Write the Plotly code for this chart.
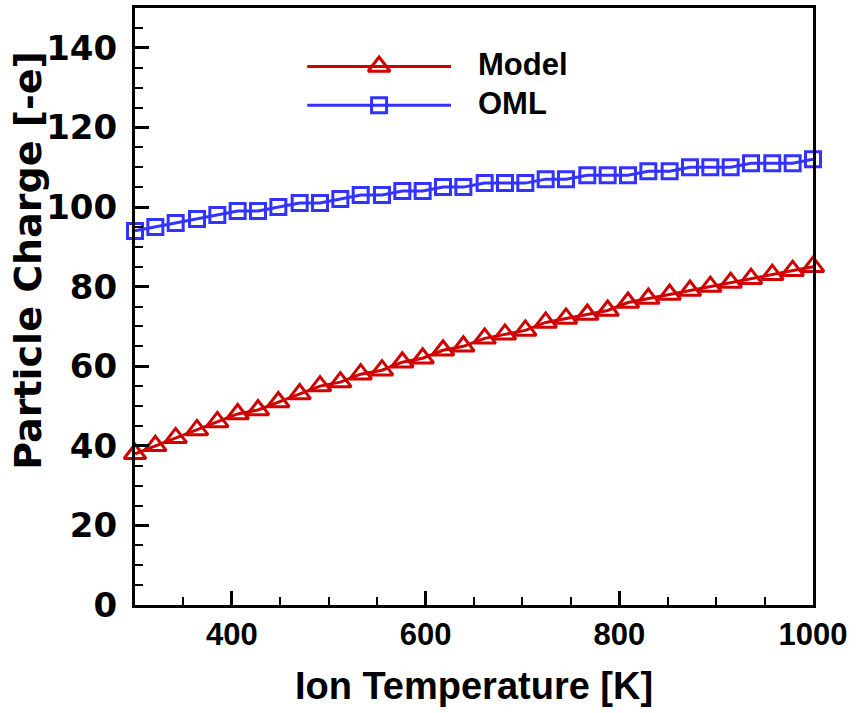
import plotly.graph_objects as go

# Ion temperature [K]
temperature = [300, 321, 342, 364, 385, 406, 427, 448, 470, 491, 512, 533,
               555, 576, 597, 618, 639, 661, 682, 703, 724, 745, 767, 788,
               809, 830, 852, 873, 894, 915, 936, 958, 979, 1000]
# Particle charge [-e]
model = [38, 40, 42, 44, 46, 48, 49, 51, 53, 55, 56, 58,
         59, 61, 62, 64, 65, 67, 68, 69, 71, 72, 73, 74,
         76, 77, 78, 79, 80, 81, 82, 83, 84, 85]
oml = [94, 95, 96, 97, 98, 99, 99, 100, 101, 101, 102, 103,
       103, 104, 104, 105, 105, 106, 106, 106, 107, 107, 108, 108,
       108, 109, 109, 110, 110, 110, 111, 111, 111, 112]
series_names = ["Model", "OML"]

RED = "#d00000"
BLUE = "#3333ff"
ARIAL = "Liberation Sans, Arial, sans-serif"
WIDE = "DejaVu Sans, sans-serif"

fig = go.Figure()
fig.add_trace(go.Scatter(
    x=temperature, y=oml, mode="lines+markers", name=series_names[1],
    line=dict(color=BLUE, width=3),
    marker=dict(symbol="square-open", size=15, color=BLUE, line=dict(width=3, color=BLUE)),
    showlegend=False, cliponaxis=False))
fig.add_trace(go.Scatter(
    x=temperature, y=model, mode="lines+markers", name=series_names[0],
    line=dict(color=RED, width=3),
    marker=dict(symbol="triangle-up-open", size=19, color=RED, line=dict(width=3, color=RED)),
    showlegend=False, cliponaxis=False))

# Hand-drawn legend on an overlay axis (0..1 in both directions)
leg_rows = [(series_names[0], RED, "triangle-up-open", 19, 0.902),
            (series_names[1], BLUE, "square-open", 15, 0.837)]
for name, col, sym, sz, yy in leg_rows:
    fig.add_trace(go.Scatter(
        x=[0.254, 0.466], y=[yy, yy], mode="lines", xaxis="x2", yaxis="y2",
        line=dict(color=col, width=3), showlegend=False, hoverinfo="skip"))
    fig.add_trace(go.Scatter(
        x=[0.36], y=[yy], mode="markers", xaxis="x2", yaxis="y2",
        marker=dict(symbol=sym, size=sz, color=col, line=dict(width=3, color=col)),
        showlegend=False, hoverinfo="skip"))
    fig.add_annotation(x=0.503, y=yy + 0.003, xref="x2", yref="y2", text="<b>%s</b>" % name,
                       showarrow=False, xanchor="left", yanchor="middle",
                       font=dict(family=ARIAL, size=31, color="black"))

fig.add_annotation(x=-0.158, y=0.578, xref="paper", yref="paper",
                   text="<b>Particle Charge [-e]</b>", textangle=-90, showarrow=False,
                   xanchor="center", yanchor="middle",
                   font=dict(family=WIDE, size=38, color="black"))

fig.update_layout(
    width=863, height=713,
    margin=dict(l=135, r=50, t=5, b=108),
    paper_bgcolor="white", plot_bgcolor="white",
    xaxis=dict(
        range=[300, 1000], tick0=0, dtick=200,
        showgrid=False, zeroline=False,
        showline=True, linewidth=3, linecolor="black", mirror=True,
        ticks="inside", ticklen=14, tickwidth=3, tickcolor="black",
        minor=dict(ticks="inside", ticklen=8, tickwidth=1.5, tickcolor="black", dtick=50, tick0=0),
        tickfont=dict(family=ARIAL, size=31, color="black"),
        tickprefix="<b>", ticksuffix="</b>",
        ticklabelstandoff=0,
        title=dict(text="<b>Ion Temperature [K]</b>", standoff=22,
                   font=dict(family=ARIAL, size=38, color="black")),
    ),
    yaxis=dict(
        range=[0, 150], tick0=0, dtick=20,
        showgrid=False, zeroline=False,
        showline=True, linewidth=3, linecolor="black", mirror=True,
        ticks="inside", ticklen=14, tickwidth=3, tickcolor="black",
        minor=dict(ticks="inside", ticklen=8, tickwidth=1.5, tickcolor="black", dtick=5, tick0=0),
        tickfont=dict(family=WIDE, size=34, color="black"),
        tickprefix="<b>", ticksuffix="</b>",
        ticklabelstandoff=8,
    ),
    xaxis2=dict(overlaying="x", range=[0, 1], visible=False, fixedrange=True),
    yaxis2=dict(overlaying="y", range=[0, 1], visible=False, fixedrange=True),
    showlegend=False,
)

fig.write_html("out.html")
